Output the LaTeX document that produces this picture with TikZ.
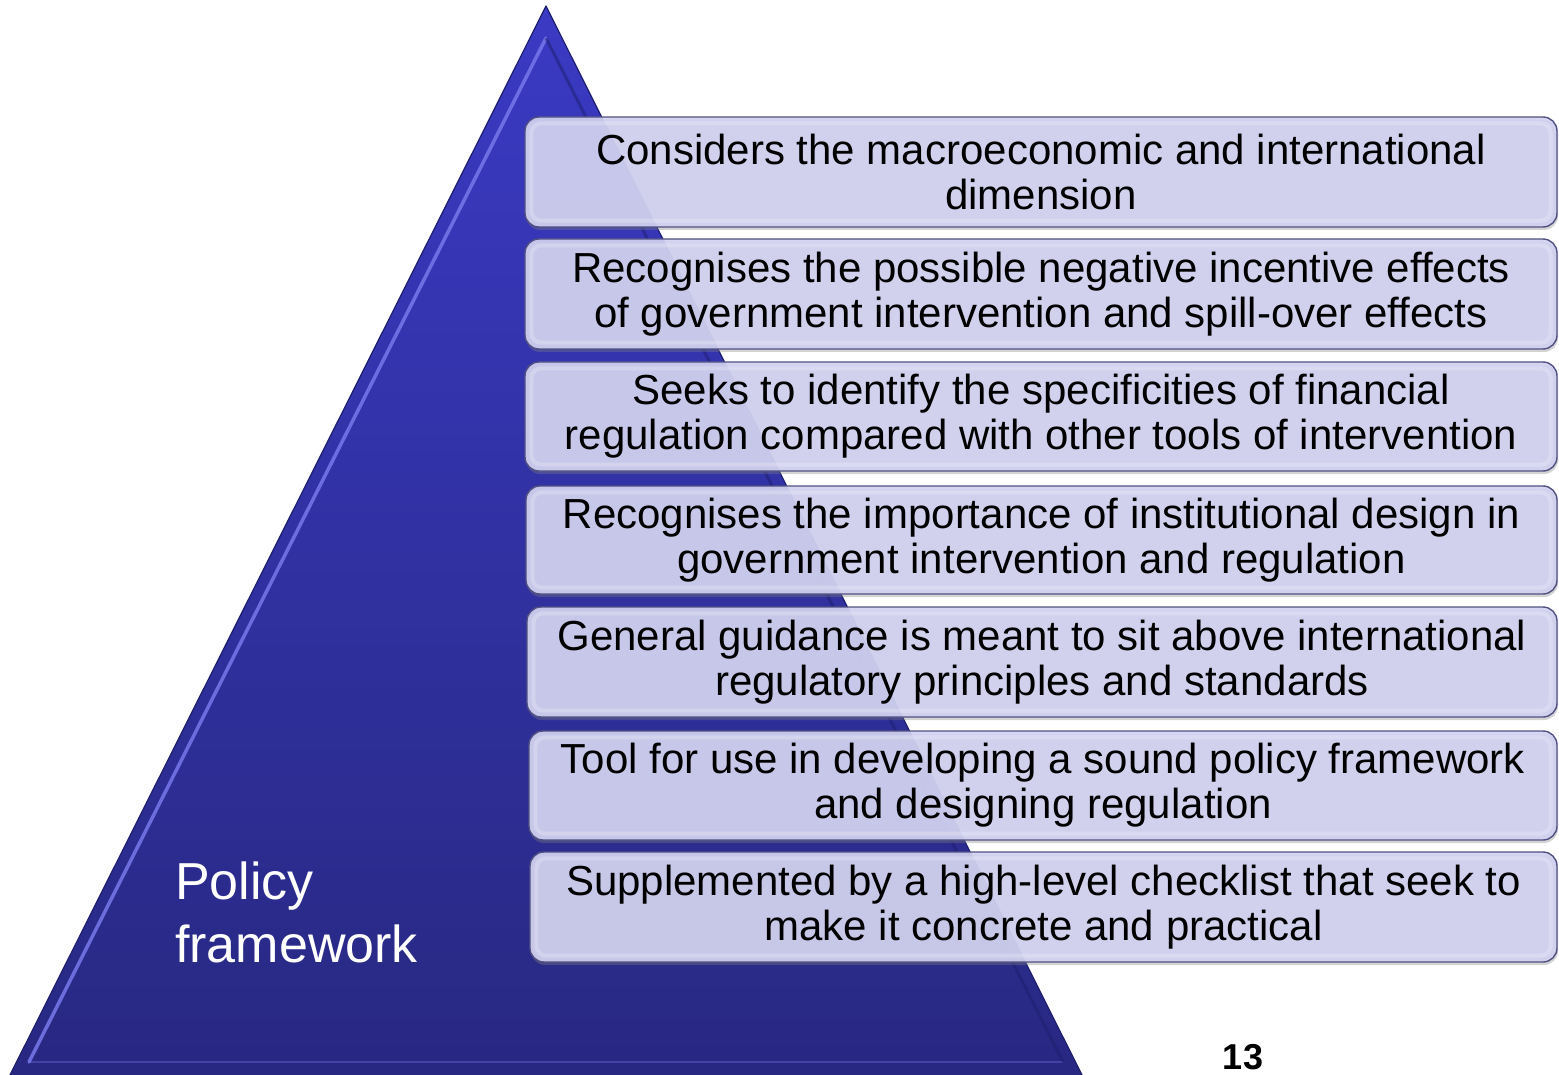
\documentclass[tikz,border=0pt]{standalone}
\usepackage{fontspec}
\setmainfont{Liberation Sans}
\usetikzlibrary{shadows}
\definecolor{pyrTop}{RGB}{58,58,196}
\definecolor{pyrBot}{RGB}{40,40,130}
\definecolor{pyrEdge}{RGB}{30,30,110}
\definecolor{pyrLight}{RGB}{120,120,235}
\definecolor{boxFill}{RGB}{210,210,241}
\definecolor{boxEdge}{RGB}{80,80,130}
\tikzset{
  itembox/.style={draw=boxEdge, line width=1.4pt, rounded corners=14pt,
    fill=boxFill, fill opacity=0.92, text opacity=1,
    drop shadow={shadow xshift=1pt, shadow yshift=-3pt, opacity=0.35},
    align=center, inner sep=0pt, text=black,
    font=\fontsize{42}{45}\selectfont},
  bevel/.style={white, opacity=0.22, line width=4pt, rounded corners=10pt},
  title/.style={text=white, align=left, anchor=north west, inner sep=0pt,
    font=\fontsize{52}{63}\selectfont},
  pagenum/.style={text=black, inner sep=0pt, font=\bfseries\fontsize{36}{36}\selectfont}
}
\begin{document}
\begin{tikzpicture}[x=1pt,y=-1pt]
\useasboundingbox (0,0) rectangle (1559,1075);
% pyramid
\coordinate (apex) at (546,6);
\coordinate (bl) at (10,1075);
\coordinate (br) at (1082,1075);
\shade[top color=pyrTop, bottom color=pyrBot] (apex) -- (br) -- (bl) -- cycle;
\draw[pyrEdge, line width=1.2pt, line join=round] (bl) -- (apex) -- (br);
% bevel highlights of the pyramid
\coordinate (ia) at (546,38);
\coordinate (il) at (29,1062);
\coordinate (ir) at (1063,1062);
\draw[pyrLight, line width=3.5pt, opacity=0.85, line cap=round] (il) -- (ia);
\draw[pyrLight, line width=1.5pt, opacity=0.35] (il) -- (ir);
\draw[pyrEdge, line width=3pt, opacity=0.5] (ia) -- (ir);
% title
\node[title] (ttl) at (175,862) {Policy\\framework};
% statement boxes
\foreach \t/\b/\l/\txt [count=\i] in {
  117/227/525/{Considers the macroeconomic and international\\dimension},
  239/349/525/{Recognises the possible negative incentive effects\\of government intervention and spill-over effects},
  362/471/525/{Seeks to identify the specificities of financial\\regulation compared with other tools of intervention},
  486/594/526/{Recognises the importance of institutional design in\\government intervention and regulation},
  607/717/527/{General guidance is meant to sit above international\\regulatory principles and standards},
  731/840/529/{Tool for use in developing a sound policy framework\\and designing regulation},
  852/962/530/{Supplemented by a high-level checklist that seek to\\make it concrete and practical}}
{
  \node[itembox, minimum width={1557-\l}, minimum height={\b-\t}]
    (b\i) at ({(\l+1557)/2},{(\t+\b)/2}) {\txt};
  \draw[bevel] ([shift={(7,7)}]b\i.north west) rectangle ([shift={(-7,-7)}]b\i.south east);
}
% page number
\node[pagenum] (pg) at (1243,1057) {13};
\end{tikzpicture}
\end{document}
